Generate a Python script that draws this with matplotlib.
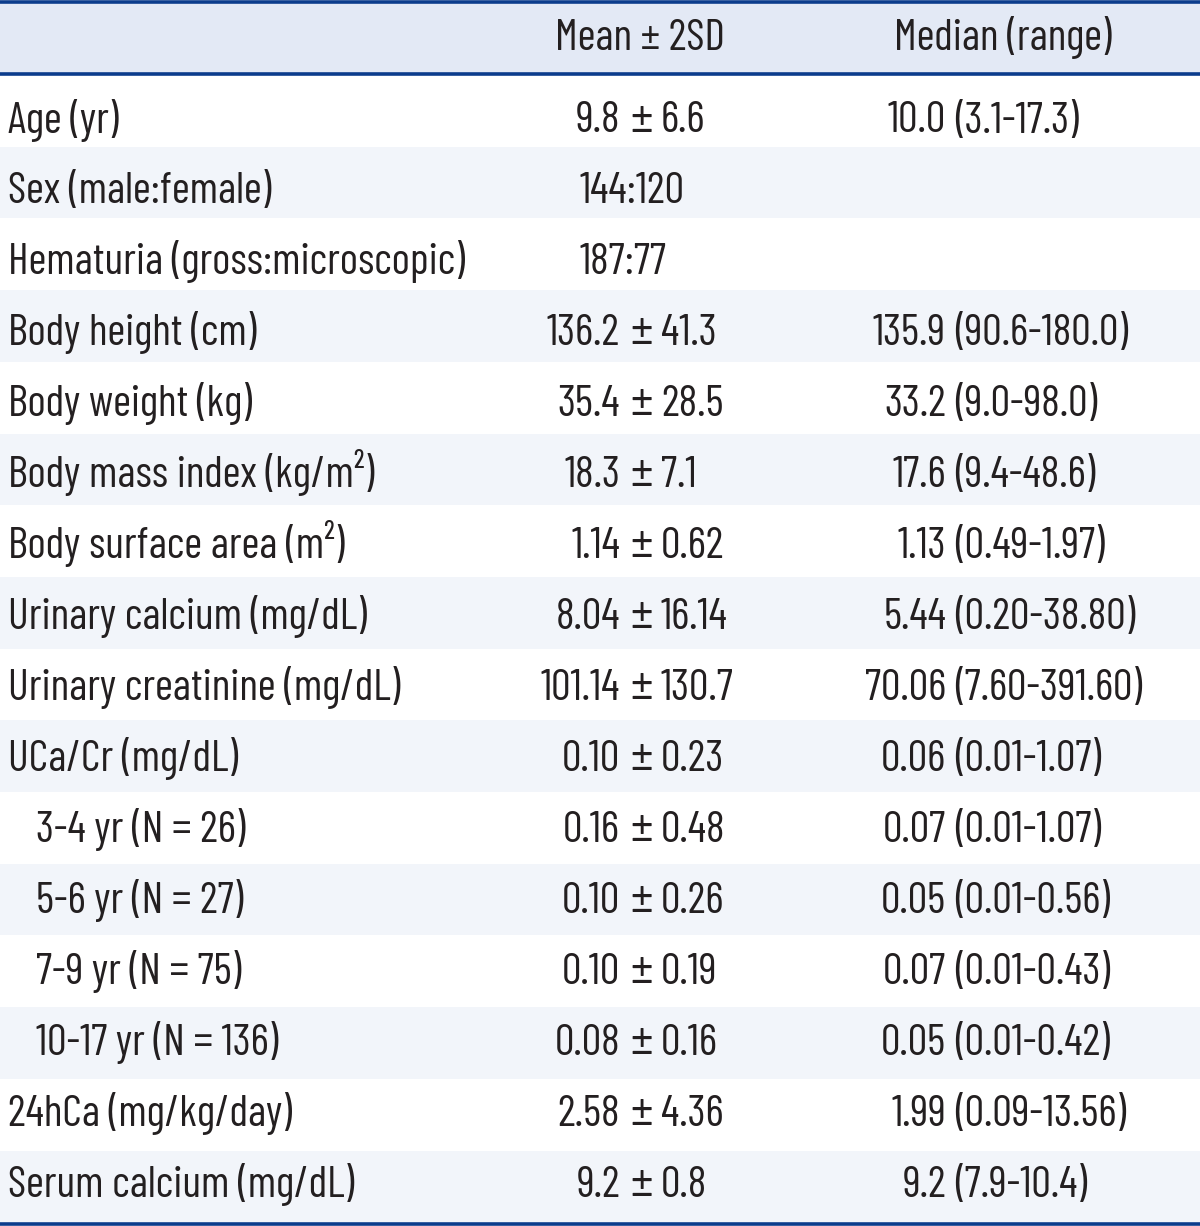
import matplotlib
matplotlib.use("Agg")
import matplotlib.pyplot as plt
from matplotlib.patches import Rectangle
from matplotlib import font_manager

# ---- data ----
col_headers = ["Mean ± 2SD", "Median (range)"]
row_labels = ["Age (yr)", "Sex (male:female)", "Hematuria (gross:microscopic)",
              "Body height (cm)", "Body weight (kg)", "Body mass index (kg/m²)",
              "Body surface area (m²)", "Urinary calcium (mg/dL)",
              "Urinary creatinine (mg/dL)", "UCa/Cr (mg/dL)",
              "3-4 yr (N = 26)", "5-6 yr (N = 27)", "7-9 yr (N = 75)",
              "10-17 yr (N = 136)", "24hCa (mg/kg/day)", "Serum calcium (mg/dL)"]
indented = [False]*10 + [True]*4 + [False]*2
mean_vals = ["9.8", "", "", "136.2", "35.4", "18.3", "1.14", "8.04", "101.14",
             "0.10", "0.16", "0.10", "0.10", "0.08", "2.58", "9.2"]
sd2_vals = ["6.6", "", "", "41.3", "28.5", "7.1", "0.62", "16.14", "130.7",
            "0.23", "0.48", "0.26", "0.19", "0.16", "4.36", "0.8"]
ratio_vals = ["", "144:120", "187:77", "", "", "", "", "", "", "", "", "", "", "", "", ""]
median_vals = ["10.0", "", "", "135.9", "33.2", "17.6", "1.13", "5.44", "70.06",
               "0.06", "0.07", "0.05", "0.07", "0.05", "1.99", "9.2"]
range_vals = ["3.1-17.3", "", "", "90.6-180.0", "9.0-98.0", "9.4-48.6", "0.49-1.97",
              "0.20-38.80", "7.60-391.60", "0.01-1.07", "0.01-1.07", "0.01-0.56",
              "0.01-0.43", "0.01-0.42", "0.09-13.56", "7.9-10.4"]

# ---- style ----
names = {f.name for f in font_manager.fontManager.ttflist}
fam = "DejaVu Sans"
for cand in ["Barlow Condensed", "PT Sans Narrow", "Roboto Condensed",
             "Liberation Sans Narrow", "Liberation Sans"]:
    if cand in names:
        fam = cand
        break
plt.rcParams['font.family'] = [fam, 'DejaVu Sans']
W, H = 1200, 1226
dpi = 100
fig = plt.figure(figsize=(W/dpi, H/dpi), dpi=dpi)
ax = fig.add_axes([0, 0, 1, 1])
ax.set_xlim(0, W)
ax.set_ylim(H, 0)
ax.axis('off')

navy = "#0b3c8c"
head_bg = "#e3e9f5"
stripe = "#f2f5fa"
txt = "#231f20"
fs = 31.5

head_top, head_bot = 2, 74
row_top = 75
row_h = 71.7

ax.add_patch(Rectangle((0, head_top), W, head_bot - head_top, color=head_bg, lw=0))
for i in range(len(row_labels)):
    y0 = row_top + i*row_h
    if i % 2 == 1:
        ax.add_patch(Rectangle((0, y0), W, row_h, color=stripe, lw=0))

ax.plot([0, W], [1.5, 1.5], color=navy, lw=2.6, solid_capstyle='butt')
ax.plot([0, W], [74, 74], color=navy, lw=2.6, solid_capstyle='butt')
ax.plot([0, W], [1223.5, 1223.5], color=navy, lw=2.6, solid_capstyle='butt')

hb = 50
ax.text(640, hb, col_headers[0], ha='center', va='baseline', fontsize=fs, color=txt)
ax.text(1003, hb, col_headers[1], ha='center', va='baseline', fontsize=fs, color=txt)

for i, lab in enumerate(row_labels):
    yb = 132.5 + i*70.95
    ax.text(36 if indented[i] else 8, yb, lab, ha='left', va='baseline', fontsize=fs, color=txt)
    if ratio_vals[i]:
        ax.text(580, yb, ratio_vals[i], ha='left', va='baseline', fontsize=fs, color=txt)
    if mean_vals[i]:
        ax.text(620, yb, mean_vals[i], ha='right', va='baseline', fontsize=fs, color=txt)
        ax.text(641, yb, "±", ha='center', va='baseline', fontsize=fs*1.15, color=txt)
        ax.text(661, yb, sd2_vals[i], ha='left', va='baseline', fontsize=fs, color=txt)
    if median_vals[i]:
        ax.text(946, yb, median_vals[i], ha='right', va='baseline', fontsize=fs, color=txt)
        ax.text(955, yb, "(" + range_vals[i] + ")", ha='left', va='baseline', fontsize=fs, color=txt)

fig.savefig("out.png", dpi=dpi)
